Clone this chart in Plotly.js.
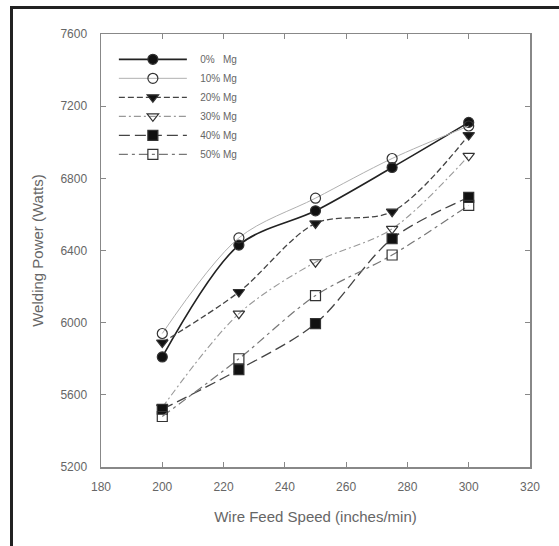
<!DOCTYPE html>
<html>
<head>
<meta charset="utf-8">
<script src="https://cdn.plot.ly/plotly-3.0.1.min.js"></script>
<style>
  html, body { margin:0; padding:0; background:#fff; }
  #wrap { position:relative; width:559px; height:546px; overflow:hidden; }
  #frame { position:absolute; left:10px; top:6px; width:560px; height:560px;
           border-left:3px solid #222; border-top:3px solid #222; pointer-events:none; z-index:5; }
  #chart { position:absolute; left:0; top:0; width:559px; height:546px; }
</style>
</head>
<body>
<div id="wrap">
  <div id="chart"></div>
  <div id="frame"></div>
</div>
<script>
const wireSpeed = [200, 225, 250, 275, 300];
const seriesNames = ["\u00a0\u00a0\u00a00%\u00a0\u00a0\u00a0Mg", "\u00a0\u00a0\u00a010%\u00a0Mg", "\u00a0\u00a0\u00a020%\u00a0Mg", "\u00a0\u00a0\u00a030%\u00a0Mg", "\u00a0\u00a0\u00a040%\u00a0Mg", "\u00a0\u00a0\u00a050%\u00a0Mg"];
const mg0  = [5810, 6430, 6620, 6860, 7110];
const mg10 = [5940, 6470, 6690, 6910, 7090];
const mg20 = [5890, 6170, 6550, 6615, 7040];
const mg30 = [5530, 6050, 6335, 6520, 6925];
const mg40 = [5520, 5740, 5995, 6465, 6695];
const mg50 = [5480, 5800, 6150, 6375, 6650];
const xTicks = [180, 200, 220, 240, 260, 280, 300, 320];
const yTicks = [5200, 5600, 6000, 6400, 6800, 7200, 7600];

const styles = [
  {color:'#222', width:1.6, dash:'solid', symbol:'circle'},
  {color:'#b0b0b0', width:1, dash:'solid', symbol:'circle-open'},
  {color:'#444', width:1.3, dash:'6px,3px', symbol:'triangle-down'},
  {color:'#999', width:1.1, dash:'7px,3px,2px,3px', symbol:'triangle-down-open'},
  {color:'#444', width:1.3, dash:'11px,5px', symbol:'square'},
  {color:'#777', width:1.2, dash:'9px,4px,3px,4px', symbol:'square-open'}
];
const data = [mg0, mg10, mg20, mg30, mg40, mg50];

const traces = data.map((ys, i) => {
  const s = styles[i];
  return {
    x: wireSpeed, y: ys, name: seriesNames[i], type:'scatter', mode:'lines+markers',
    line: {color:s.color, width:s.width, dash:s.dash, shape:'spline', smoothing:0.9},
    marker: {symbol:s.symbol, size:10, color: s.symbol.endsWith('open') ? '#333' : '#111',
             line:{color:'#333', width:1.2}}
  };
});

const axisCommon = {
  showgrid:false, zeroline:false, showline:true, linecolor:'#888', linewidth:1.5,
  mirror:'ticks', ticks:'inside', ticklen:5, tickcolor:'#888', tickwidth:1.2,
  tickfont:{family:'Liberation Sans, Arial, sans-serif', size:12, color:'#666'}
};

const layout = {
  width:559, height:546,
  margin:{l:101, r:29, t:34, b:79},
  paper_bgcolor:'#fff', plot_bgcolor:'#fff',
  showlegend:true,
  legend:{x:0.03, y:0.975, xanchor:'left', yanchor:'top', bgcolor:'rgba(0,0,0,0)',
          font:{family:'Liberation Sans, Arial, sans-serif', size:10, color:'#666'},
          itemwidth:68, tracegroupgap:0},
  xaxis: Object.assign({}, axisCommon, {
    range:[180, 320], tickvals:xTicks, ticktext:xTicks.map(String),
    ticklabelstandoff:8,
    title:{text:'Wire Feed Speed (inches/min)', standoff:18,
           font:{family:'Liberation Sans, Arial, sans-serif', size:15, color:'#666'}}
  }),
  yaxis: Object.assign({}, axisCommon, {
    range:[5200, 7600], tickvals:yTicks, ticktext:yTicks.map(String),
    ticklabelstandoff:10,
    title:{text:'Welding Power (Watts)', standoff:13,
           font:{family:'Liberation Sans, Arial, sans-serif', size:15, color:'#666'}}
  })
};

Plotly.newPlot('chart', traces, layout, {staticPlot:true, displayModeBar:false});
</script>
</body>
</html>
